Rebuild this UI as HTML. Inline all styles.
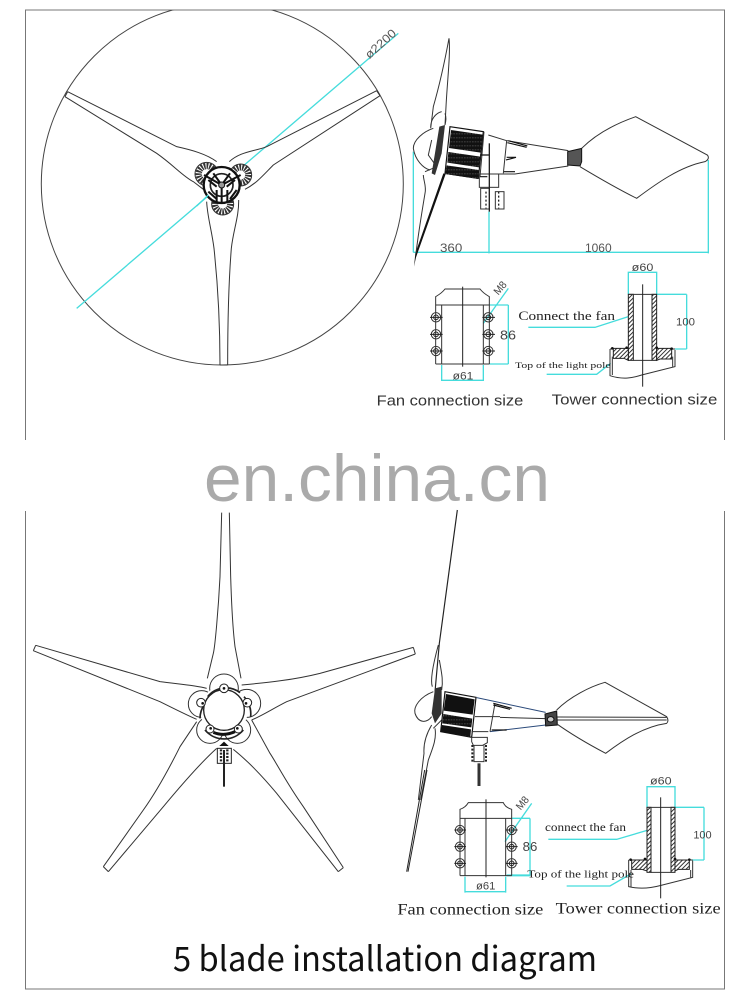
<!DOCTYPE html>
<html><head><meta charset="utf-8"><style>
html,body{margin:0;padding:0;background:#fff;width:750px;height:997px;overflow:hidden}
svg{display:block}
.s{font-family:"Liberation Sans",sans-serif}
.f{font-family:"Liberation Serif",serif}
.k{fill:none;stroke:#333;stroke-width:3}
.b{fill:none;stroke:#111;stroke-width:3.5}
.c{fill:none;stroke:#45dcdc;stroke-width:4}
.w{fill:#fff;stroke:#222;stroke-width:3}
.d{fill:#555}
</style></head><body>
<svg width="750" height="997" viewBox="0 0 750 997" xmlns="http://www.w3.org/2000/svg">
<defs>
<clipPath id="fr"><rect x="26" y="10" width="699" height="420"/></clipPath>
<pattern id="h" width="9" height="9" patternUnits="userSpaceOnUse" patternTransform="rotate(45)"><rect width="9" height="9" fill="#fff"/><rect width="3" height="9" fill="#333"/></pattern>
<pattern id="g" width="8" height="12" patternUnits="userSpaceOnUse"><rect width="8" height="12" fill="#111"/><rect y="5" width="5" height="1.5" fill="#777"/></pattern>
</defs>
<path d="M25.5,440V10H724.5V440M25.5,511V989H724.5V511" fill="none" stroke="#777" stroke-width="1"/>

<g clip-path="url(#fr)"><circle cx="222.3" cy="184" r="181" fill="none" stroke="#444" stroke-width="1"/></g>
<g transform="scale(.33333)">
<path class="c" d="M230,925L1195,100"/>
<text class="s" x="0" y="0" font-size="36" fill="#555" transform="translate(1108,178) rotate(-42)" textLength="112" lengthAdjust="spacingAndGlyphs">ø2200</text>
<path class="k" d="M203,275L530,440C575,450 620,462 650,485M195,290L470,460C520,495 550,530 580,545L610,568"/>
<path class="k" d="M195,290L203,275M1130,272L1140,287"/>
<path class="k" d="M1130,272L800,440C760,455 720,455 688,485M1140,287L820,495C790,525 770,550 735,568"/>
<path class="k" d="M660,1095C660,950 650,820 642,745C635,690 622,650 620,605M683,1095C683,950 688,820 694,745C700,690 717,650 716,600M660,1095H683"/>
<g fill="#fff" stroke="#333" stroke-width="3">
<circle cx="620" cy="522" r="35"/><circle cx="722" cy="525" r="33"/><circle cx="668" cy="612" r="33"/>
</g>
<g fill="none" stroke="#333" stroke-width="19" stroke-dasharray="5 3">
<circle cx="620" cy="522" r="24"/><circle cx="722" cy="525" r="23"/><circle cx="668" cy="612" r="23"/>
</g>
<circle cx="665" cy="555" r="54" fill="#fff" stroke="#111" stroke-width="7"/>
<circle cx="665" cy="555" r="34" fill="none" stroke="#222" stroke-width="5"/>
<path fill="none" stroke="#111" stroke-width="6" d="M665,555L612,525M665,555L722,525M665,555V607M650,570V607M682,570V607M625,575L650,597M710,570L690,597M640,520L665,555L690,520M625,540L650,560M705,540L680,560"/>
<circle cx="665" cy="555" r="9" fill="#999" stroke="#111" stroke-width="3"/>
<path class="c" d="M625,585L590,618"/>
</g>

<g transform="translate(400,20) scale(.33333)">
<path class="c" d="M40,395V697M267,575V700M925,420V700M40,697H925"/>
<path class="k" d="M147,55C152,100 142,180 138,260L135,315M147,55C135,120 120,190 100,260L92,325M125,275C105,280 92,300 92,322M135,280C140,295 137,305 135,315"/>
<path class="k" d="M100,325C70,335 40,360 40,385C45,420 70,445 90,450"/>
<path fill="#111" d="M130,460L137,462L48,712L42,740L46,700Z"/>
<path class="k" d="M70,465C70,480 80,500 75,520C65,580 55,640 48,700M95,360L85,405L110,440L75,455"/>
<path fill="#333" d="M118,320L135,315L125,400L105,465L95,460Z"/>
<path class="b" stroke-width="5" d="M150,320L250,335L235,475L135,460Z"/>
<path fill="url(#g)" d="M153,330L248,344L242,398L147,384Z"/>
<path fill="url(#g)" d="M145,396L241,410L237,442L142,428Z"/>
<path fill="url(#g)" d="M140,436L237,450L234,477L135,462Z"/>
<path class="k" d="M265,345L320,362L505,392M262,462H345L505,438M320,362L310,460M252,335L240,470"/>
<path class="b" d="M325,362L382,378M322,368L380,382M320,412L348,412L318,420M312,455H345M240,405H270M240,470H262"/>
<rect class="k" x="238" y="462" width="58" height="40"/>
<rect class="k" x="242" y="505" width="26" height="62"/><rect class="k" x="286" y="515" width="26" height="52"/>
<path fill="none" stroke="#222" stroke-width="4" stroke-dasharray="6 6" d="M258,515V565M296,515V565"/>
<path stroke="#222" stroke-width="4" d="M268,370V575"/>
<path fill="#555" stroke="#111" stroke-width="3" d="M503,395L545,385V425L540,438L503,435Z"/>
<path class="k" d="M545,385C590,340 650,310 707,290L922,405C928,412 925,420 915,425C840,440 770,490 710,535C650,505 590,470 540,440"/>
<text class="s" x="120" y="696" font-size="36" fill="#555" textLength="67" lengthAdjust="spacingAndGlyphs">360</text>
<text class="s" x="555" y="696" font-size="36" fill="#555" textLength="80" lengthAdjust="spacingAndGlyphs">1060</text>
</g>

<g transform="translate(370,255) scale(.33333)">
<path class="c" d="M340,205L415,100M358,150H415M358,327H415M415,150V327M215,330V378M340,330V378M215,376H340M775,50V118M860,50V118M775,52H860M860,118H950M915,282H950M950,118V282M475,217H675L775,185M530,358H680L722,325"/>
<path class="k" d="M197,327V125C205,120 215,115 225,102H330C340,115 350,120 358,125V327M197,150H358M197,327H358M215,150V327M340,150V327"/>
<path stroke="#222" stroke-width="3" d="M278,95V335"/>
<g class="k" fill="#fff"><circle cx="198" cy="187" r="14"/><circle cx="198" cy="238" r="14"/><circle cx="198" cy="288" r="14"/><circle cx="355" cy="187" r="14"/><circle cx="355" cy="238" r="14"/><circle cx="355" cy="288" r="14"/></g>
<g fill="none" stroke="#222" stroke-width="3"><circle cx="198" cy="187" r="7"/><circle cx="198" cy="238" r="7"/><circle cx="198" cy="288" r="7"/><circle cx="355" cy="187" r="7"/><circle cx="355" cy="238" r="7"/><circle cx="355" cy="288" r="7"/>
<path d="M180,187H218M180,238H218M180,288H218M337,187H375M337,238H375M337,288H375"/></g>
<rect x="775" y="118" width="15" height="198" fill="url(#h)" stroke="#222" stroke-width="3"/>
<rect x="846" y="118" width="14" height="198" fill="url(#h)" stroke="#222" stroke-width="3"/>
<path class="k" d="M775,118H860M790,316H846"/>
<path fill="url(#h)" stroke="#222" stroke-width="3" d="M730,280H775V316L762,310H730Z"/>
<path fill="url(#h)" stroke="#222" stroke-width="3" d="M860,280H905V312H870L860,316Z"/>
<path class="k" d="M720,282V362C760,375 790,368 815,360L915,335V285M720,282H730M905,282H915M727,305V360M908,305V335"/>
<g fill="#111"><circle cx="727" cy="280" r="4"/><circle cx="770" cy="278" r="4"/><circle cx="860" cy="278" r="4"/><circle cx="905" cy="281" r="4"/></g>
<path stroke="#222" stroke-width="3" d="M818,88V395"/>
<text class="s" x="248" y="374" font-size="34" fill="#444" textLength="62" lengthAdjust="spacingAndGlyphs">ø61</text>
<text class="s" x="390" y="253" font-size="38" fill="#444" textLength="48" lengthAdjust="spacingAndGlyphs">86</text>
<text class="s" font-size="32" fill="#444" transform="translate(385,122) rotate(-50)" textLength="42" lengthAdjust="spacingAndGlyphs">M8</text>
<text class="s" x="785" y="48" font-size="32" fill="#444" textLength="65" lengthAdjust="spacingAndGlyphs">ø60</text>
<text class="s" x="918" y="212" font-size="34" fill="#444" textLength="57" lengthAdjust="spacingAndGlyphs">100</text>
<text class="f" x="445" y="195" font-size="39" fill="#222" textLength="290" lengthAdjust="spacingAndGlyphs">Connect the fan</text>
<text class="f" x="435" y="339" font-size="26" fill="#222" textLength="287" lengthAdjust="spacingAndGlyphs">Top of the light pole</text>
<text class="s" x="20" y="452" font-size="44" fill="#333" textLength="440" lengthAdjust="spacingAndGlyphs">Fan connection size</text>
<text class="s" x="545" y="449" font-size="44" fill="#333" textLength="497" lengthAdjust="spacingAndGlyphs">Tower connection size</text>
</g>

<text class="s" x="204" y="501" font-size="66" fill="#aaa" textLength="346" lengthAdjust="spacingAndGlyphs">en.china.cn</text>

<g transform="translate(20,500) scale(.33333)">
<path class="k" d="M605,38L600,230C595,330 585,440 580,460L562,535M628,38L632,230C635,330 640,400 645,440L663,535"/>
<path class="k" d="M47,436L420,545C470,552 520,555 560,565M40,452L420,605C460,625 500,645 530,658M40,452L47,436"/>
<path class="k" d="M1180,442L900,520C820,540 740,548 665,555M1186,462L800,605C760,625 730,645 695,660M1180,442L1186,462"/>
<path class="k" d="M250,1100L370,930C420,860 460,780 480,740L530,665M265,1115L430,920C480,860 540,790 590,745M250,1100L265,1115"/>
<path class="k" d="M955,1115L770,880C720,820 680,780 640,748M970,1103L850,920C800,850 770,790 750,760L695,660M955,1115L970,1103"/>
<g class="k" fill="#fff"><circle cx="612" cy="565" r="43"/><circle cx="680" cy="610" r="42"/><circle cx="652" cy="690" r="40"/><circle cx="570" cy="690" r="40"/><circle cx="545" cy="612" r="40"/></g>
<circle cx="612" cy="630" r="72" fill="#fff"/>
<path fill="none" stroke="#222" stroke-width="5" d="M563,590A70,70 0 0 1 660,578M672,590A78,78 0 0 1 692,650M670,690A75,75 0 0 1 555,690M540,655A75,75 0 0 1 552,615"/>
<circle cx="612" cy="630" r="61" fill="#fff" stroke="#222" stroke-width="4"/>
<path fill="none" stroke="#111" stroke-width="9" d="M580,697Q612,710 645,695"/>
<g fill="#fff" stroke="#222" stroke-width="3"><circle cx="612" cy="565" r="13"/><circle cx="682" cy="608" r="13"/><circle cx="655" cy="687" r="12"/><circle cx="570" cy="687" r="12"/><circle cx="543" cy="608" r="13"/></g>
<g fill="#111"><circle cx="612" cy="565" r="4"/><circle cx="678" cy="610" r="4"/><circle cx="652" cy="685" r="4"/><circle cx="572" cy="685" r="4"/><circle cx="548" cy="610" r="4"/></g>
<path fill="#111" d="M598,738L612,725L626,738Z"/>
<rect x="592" y="745" width="42" height="45" fill="#fff" stroke="#222" stroke-width="3"/>
<path fill="none" stroke="#222" stroke-width="7" stroke-dasharray="6 4" d="M603,748V788M622,748V788"/>
<path stroke="#222" stroke-width="6" d="M612,750V860"/>
</g>

<g transform="translate(400,510) scale(.33333)">
<path fill="none" stroke="#222" stroke-width="3.5" d="M172,0L118,400L105,545"/>
<path class="k" d="M115,405C100,460 90,510 97,530M118,450C125,490 130,510 125,540M100,545C60,560 40,590 45,610C55,640 80,640 95,620"/>
<path fill="#333" d="M105,535L125,530L125,610L105,640L95,610Z"/>
<path class="k" d="M95,645C80,670 70,700 72,730L55,870M105,655C110,685 100,710 85,750L62,870M125,630L100,655"/>
<path class="b" stroke-width="5" d="M135,545L228,562L215,682L122,665Z"/>
<path fill="#111" d="M138,552L224,568L218,614L131,602Z"/>
<path fill="url(#g)" d="M130,612L217,626L214,652L127,640Z"/>
<path fill="#111" d="M126,645L213,658L211,680L122,665Z"/>
<path fill="none" stroke="#2b4a7a" stroke-width="3" d="M230,563L437,607M270,665L437,645"/>
<path class="k" d="M285,580L270,665M225,620H300M215,665H265"/>
<path class="b" d="M280,580L335,595M280,585L330,598M275,660H320"/>
<path class="k" d="M300,622L437,626M470,621L800,622M470,630L800,630"/>
<path fill="#444" stroke="#111" stroke-width="3" d="M435,612L470,603L472,645L437,648Z"/>
<ellipse cx="452" cy="628" rx="10" ry="8" fill="#ccc" stroke="#111" stroke-width="3"/>
<path class="k" d="M470,600C510,560 570,530 615,517L800,620C805,628 805,635 800,640C730,650 670,690 617,730C560,700 510,670 468,640"/>
<path class="k" d="M215,682H262V698L248,706H220L215,695Z"/>
<path class="k" d="M222,706V755H252V706"/>
<path fill="none" stroke="#222" stroke-width="6" stroke-dasharray="6 5" d="M217,705V760M258,705V760"/>
<path stroke="#333" stroke-width="9" d="M237,760V828"/>
</g>

<g transform="translate(390,770) scale(.33333)">
<path class="c" d="M345,215L425,100M365,145H420M350,317H420M420,145V317M225,320V368M347,320V368M225,365H347M771,48V112M855,48V112M771,50H855M855,112H942M905,270H942M942,112V270M475,208H680L775,180M530,348H660L722,312M350,315H420"/>
<path class="k" d="M210,317V118C220,115 228,110 235,98H340C345,110 355,115 365,118V317M210,145H365M210,317H365M225,145V317M347,145V317"/>
<path stroke="#222" stroke-width="3" d="M288,88V322"/>
<g class="k" fill="#fff"><circle cx="210" cy="180" r="14"/><circle cx="210" cy="230" r="14"/><circle cx="210" cy="280" r="14"/><circle cx="365" cy="180" r="14"/><circle cx="365" cy="230" r="14"/><circle cx="365" cy="280" r="14"/></g>
<g fill="none" stroke="#222" stroke-width="3"><circle cx="210" cy="180" r="7"/><circle cx="210" cy="230" r="7"/><circle cx="210" cy="280" r="7"/><circle cx="365" cy="180" r="7"/><circle cx="365" cy="230" r="7"/><circle cx="365" cy="280" r="7"/>
<path d="M193,180H228M193,230H228M193,280H228M348,180H383M348,230H383M348,280H383"/></g>
<rect x="771" y="112" width="12" height="195" fill="url(#h)" stroke="#222" stroke-width="3"/>
<rect x="843" y="112" width="12" height="195" fill="url(#h)" stroke="#222" stroke-width="3"/>
<path class="k" d="M771,112H855M783,307H843"/>
<path fill="url(#h)" stroke="#222" stroke-width="3" d="M725,270H771V303L755,298H725Z"/>
<path fill="url(#h)" stroke="#222" stroke-width="3" d="M855,270H898V298H865L855,303Z"/>
<path class="k" d="M716,270V350C750,358 780,355 810,347L908,322V272M716,270H725M898,270H908M723,300V350M902,300V322"/>
<g fill="#111"><circle cx="722" cy="269" r="4"/><circle cx="765" cy="267" r="4"/><circle cx="855" cy="267" r="4"/><circle cx="898" cy="269" r="4"/></g>
<path stroke="#222" stroke-width="3" d="M812,82V385"/>
<path fill="none" stroke="#222" stroke-width="3" d="M104,0L50,305M111,0L54,305"/>
<text class="s" x="258" y="358" font-size="32" fill="#444" textLength="58" lengthAdjust="spacingAndGlyphs">ø61</text>
<text class="s" x="398" y="243" font-size="38" fill="#444" textLength="44" lengthAdjust="spacingAndGlyphs">86</text>
<text class="s" font-size="32" fill="#444" transform="translate(392,122) rotate(-50)" textLength="42" lengthAdjust="spacingAndGlyphs">M8</text>
<text class="s" x="780" y="44" font-size="32" fill="#444" textLength="65" lengthAdjust="spacingAndGlyphs">ø60</text>
<text class="s" x="910" y="205" font-size="34" fill="#444" textLength="55" lengthAdjust="spacingAndGlyphs">100</text>
<text class="f" x="465" y="183" font-size="34" fill="#222" textLength="243" lengthAdjust="spacingAndGlyphs">connect the fan</text>
<text class="f" x="412" y="323" font-size="33" fill="#222" textLength="320" lengthAdjust="spacingAndGlyphs">Top of the light pole</text>
<text class="f" x="22" y="433" font-size="46" fill="#222" textLength="438" lengthAdjust="spacingAndGlyphs">Fan connection size</text>
<text class="f" x="497" y="430" font-size="46" fill="#222" textLength="495" lengthAdjust="spacingAndGlyphs">Tower connection size</text>
</g>

<text x="173" y="971" font-family="'Noto Sans CJK SC','Liberation Sans',sans-serif" font-size="34" fill="#111" textLength="424" lengthAdjust="spacingAndGlyphs">5 blade installation diagram</text>
</svg>
</body></html>
